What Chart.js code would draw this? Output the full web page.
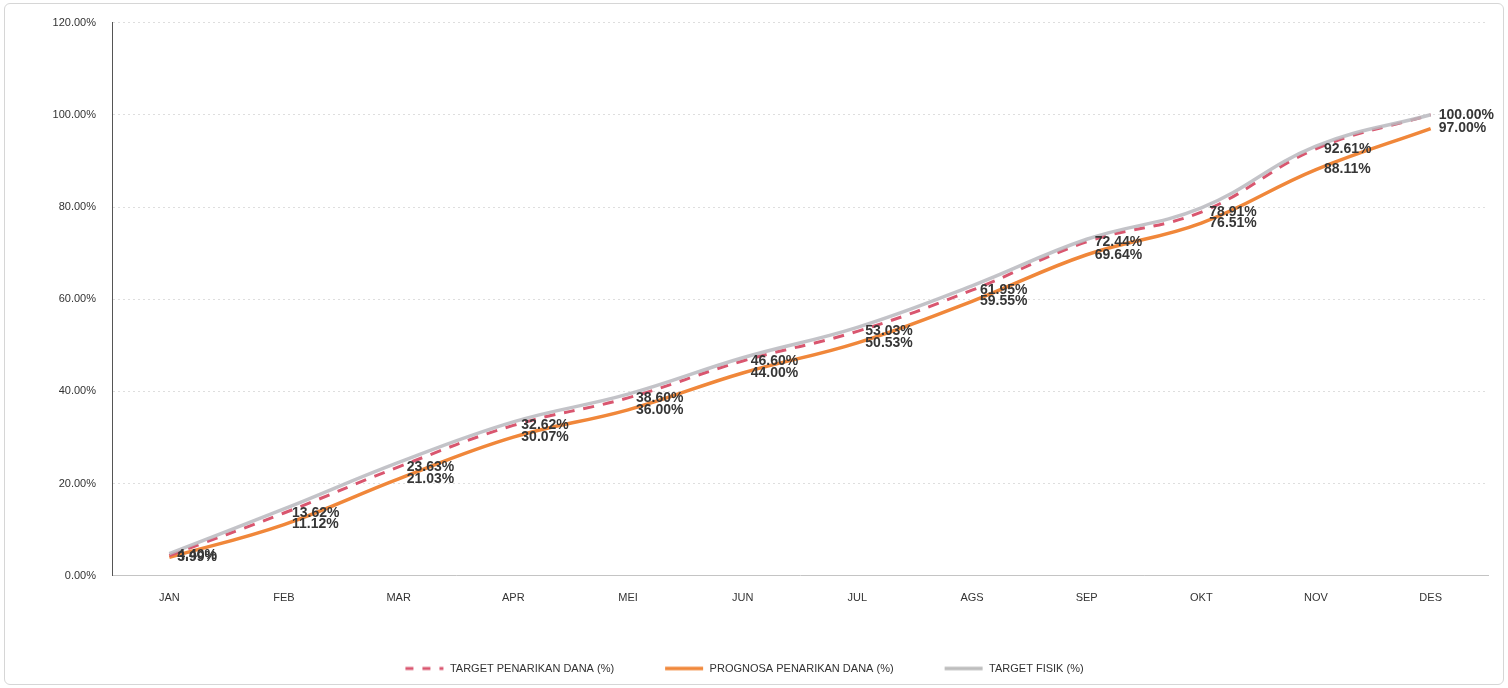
<!DOCTYPE html>
<html>
<head>
<meta charset="utf-8">
<script src="https://cdn.jsdelivr.net/npm/chart.js@4"></script>
<style>
  html, body { margin: 0; padding: 0; background: #fff; }
  #wrap { position: absolute; left: 4px; top: 3px; width: 1500px; height: 682px; border: 1px solid #d6d6d6; border-radius: 6px; box-sizing: border-box; }
  #box { position: absolute; left: 0; top: 0; width: 1508px; height: 688px; }
</style>
</head>
<body>
<div id="wrap"></div>
<div id="box"><canvas id="lineChart"></canvas></div>
<script>
const months = ['JAN', 'FEB', 'MAR', 'APR', 'MEI', 'JUN', 'JUL', 'AGS', 'SEP', 'OKT', 'NOV', 'DES'];
const targetPenarikan = [4.40, 13.62, 23.63, 32.62, 38.60, 46.60, 53.03, 61.95, 72.44, 78.91, 92.61, 100.00];
const prognosaPenarikan = [3.99, 11.12, 21.03, 30.07, 36.00, 44.00, 50.53, 59.55, 69.64, 76.51, 88.11, 97.00];
const targetFisik = [4.8, 14.5, 24.6, 33.4, 39.4, 47.3, 53.9, 62.9, 73.0, 79.8, 93.2, 100.00];
const yTicks = [0, 20, 40, 60, 80, 100, 120];

const fontFam = '"Liberation Sans Narrow", "Liberation Sans", Arial, sans-serif';

const redColor = '#d9566f';
const orangeColor = '#f0873a';
const grayColor = 'rgba(185, 185, 190, 0.85)';

// little canvas with a line sample, used as legend symbol
function lineSymbol(color, width, dash) {
  const c = document.createElement('canvas');
  c.width = 40;
  c.height = 6;
  const g = c.getContext('2d');
  g.strokeStyle = color;
  g.lineWidth = width;
  g.setLineDash(dash);
  g.beginPath();
  g.moveTo(1, 3);
  g.lineTo(39, 3);
  g.stroke();
  return c;
}
const symbols = [
  lineSymbol(redColor, 3, [8, 9]),
  lineSymbol(orangeColor, 3.5, []),
  lineSymbol('#bdbdbd', 3.5, [])
];

// value labels to the right of each point (target penarikan + prognosa)
const valueLabels = {
  id: 'valueLabels',
  afterDatasetsDraw(chart) {
    const ctx = chart.ctx;
    ctx.save();
    ctx.font = 'bold 14px ' + fontFam;
    ctx.fillStyle = '#363636';
    ctx.textAlign = 'left';
    ctx.textBaseline = 'middle';
    [0, 1].forEach(di => {
      const meta = chart.getDatasetMeta(di);
      const data = chart.data.datasets[di].data;
      meta.data.forEach((pt, i) => {
        ctx.fillText(data[i].toFixed(2) + '%', pt.x + 8, pt.y);
      });
    });
    ctx.restore();
  }
};

const chartElement = document.getElementById('lineChart').getContext('2d');

new Chart(chartElement, {
  type: 'line',
  data: {
    labels: months,
    datasets: [{
      label: 'TARGET PENARIKAN DANA (%)',
      data: targetPenarikan,
      borderColor: redColor,
      borderWidth: 3,
      borderDash: [11, 9],
      pointRadius: 0,
      tension: 0.4,
      order: 2
    }, {
      label: 'PROGNOSA PENARIKAN DANA (%)',
      data: prognosaPenarikan,
      borderColor: orangeColor,
      borderWidth: 3.5,
      pointRadius: 0,
      tension: 0.4,
      order: 3
    }, {
      label: 'TARGET FISIK (%)',
      data: targetFisik,
      borderColor: grayColor,
      borderWidth: 3.5,
      pointRadius: 0,
      tension: 0.4,
      order: 1
    }]
  },
  options: {
    responsive: true,
    maintainAspectRatio: false,
    animation: false,
    layout: { padding: { top: 14, right: 20, left: 0, bottom: 4 } },
    scales: {
      x: {
        offset: true,
        grid: { display: false },
        border: { color: '#c4c4c4' },
        ticks: { color: '#333', font: { family: fontFam, size: 11 }, padding: 8 }
      },
      y: {
        min: 0,
        max: 120,
        afterFit: (scale) => { scale.width = 112; },
        afterBuildTicks: (scale) => { scale.ticks = yTicks.map(v => ({ value: v })); },
        grid: { color: '#dedede', drawTicks: false },
        border: { color: '#555', dash: [2, 3] },
        ticks: {
          color: '#333',
          padding: 16,
          font: { family: fontFam, size: 11 },
          callback: (v) => v.toFixed(2) + '%'
        }
      }
    },
    plugins: {
      legend: {
        position: 'bottom',
        labels: {
          usePointStyle: true,
          pointStyleWidth: 40,
          color: '#333',
          padding: 50,
          font: { family: fontFam, size: 11 },
          generateLabels: (chart) => chart.data.datasets.map((ds, i) => ({
            text: ds.label,
            pointStyle: symbols[i],
            fontColor: '#333',
            datasetIndex: i,
            hidden: false,
            lineWidth: 0,
            strokeStyle: ds.borderColor,
            fillStyle: ds.borderColor
          }))
        }
      },
      tooltip: { enabled: false }
    }
  },
  plugins: [valueLabels]
});
</script>
</body>
</html>
